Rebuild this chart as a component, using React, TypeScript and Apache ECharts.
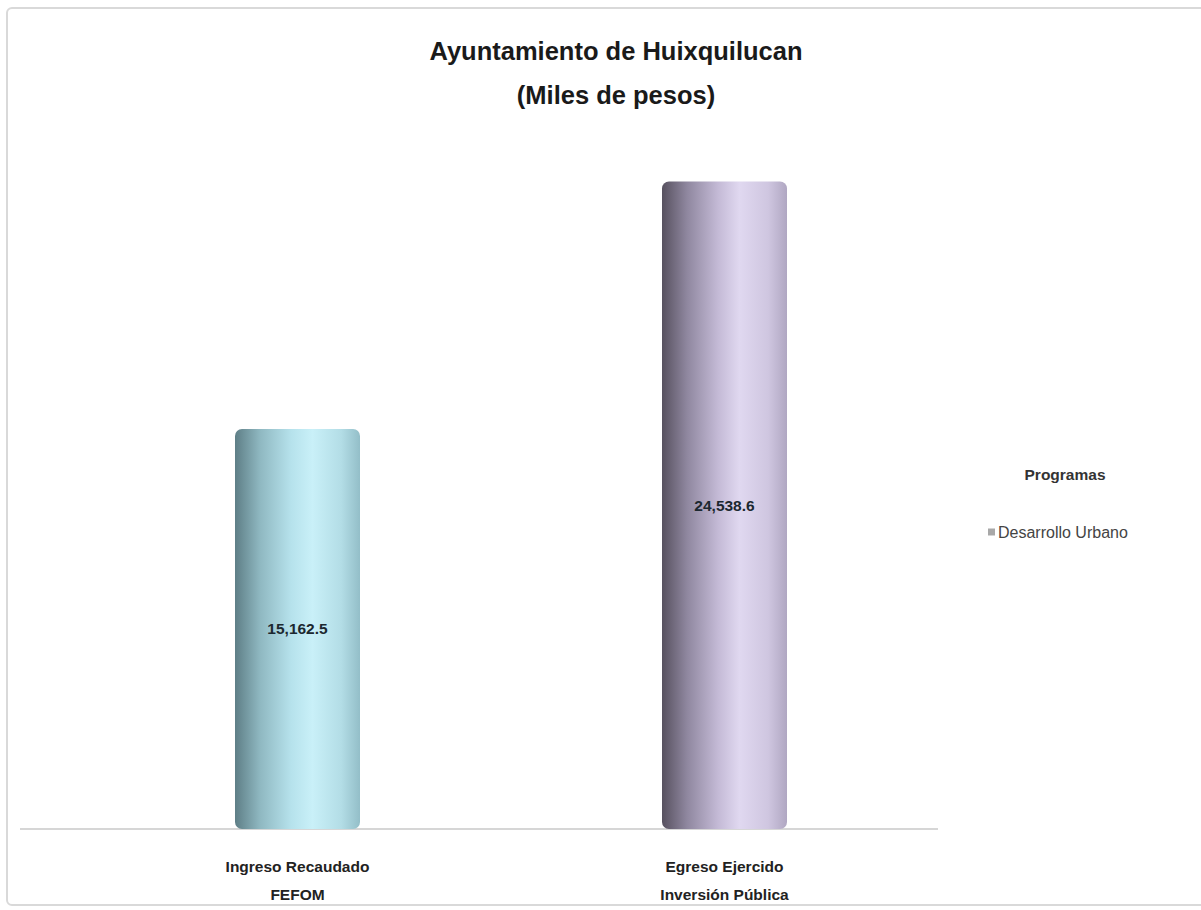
import React, { useEffect, useRef } from "react";
import * as echarts from "echarts";

const categories = ["Ingreso Recaudado\nFEFOM", "Egreso Ejercido\nInversión Pública"];
const values = [15162.5, 24538.6];
const seriesName = "Desarrollo Urbano";
const legendTitle = "Programas";
const titleText = "Ayuntamiento de Huixquilucan\n(Miles de pesos)";

const barGradients = [
  ["#5e7e86", "#8fb8c1", "#b6e2ec", "#c9f0f8", "#b3dde6", "#93bec8"],
  ["#57515f", "#8f879f", "#c4bad6", "#e0d8f0", "#cfc6e0", "#b0a7c2"],
];

const FONT = "'Liberation Sans Narrow', 'Arial Narrow', 'Liberation Sans', Arial, sans-serif";

function gradient(cols: string[]) {
  const n = cols.length;
  const stops = [0, 0.2, 0.45, 0.62, 0.85, 1];
  return new echarts.graphic.LinearGradient(0, 0, 1, 0, cols.map((c, i) => ({ offset: stops[i] ?? i / (n - 1), color: c })));
}

export default function App() {
  const ref = useRef<HTMLDivElement>(null);
  useEffect(() => {
    if (!ref.current) return;
    const chart = echarts.init(ref.current, undefined, { renderer: "svg" });
    const fmt = new Intl.NumberFormat("en-US", { minimumFractionDigits: 1, maximumFractionDigits: 1 });
    chart.setOption({
      animation: false,
      backgroundColor: "#ffffff",
      title: [
        {
          text: titleText,
          left: 611,
          top: 24,
          textAlign: "center",
          textStyle: { fontFamily: FONT, fontSize: 25.5, fontWeight: "bold", color: "#1a1a1a", lineHeight: 44 },
        },
        {
          text: legendTitle,
          left: 1060,
          top: 461,
          textAlign: "center",
          textStyle: { fontFamily: FONT, fontSize: 15.5, fontWeight: "bold", color: "#333333" },
        },
      ],
      legend: {
        left: 983,
        top: 519,
        icon: "rect",
        itemWidth: 7,
        itemHeight: 7,
        itemGap: 4,
        textStyle: { fontFamily: FONT, fontSize: 16, color: "#444444", padding: [0, 0, 0, -2] },
        data: [{ name: seriesName, itemStyle: { color: "#a8a8a8" } }],
      },
      grid: { left: 84, right: 263, top: 143, bottom: 81 },
      xAxis: {
        type: "category",
        data: categories,
        axisLine: { show: false },
        axisTick: { show: false },
        axisLabel: {
          margin: 23,
          fontFamily: FONT,
          fontSize: 15.5,
          fontWeight: "bold",
          color: "#222222",
          lineHeight: 28,
        },
      },
      yAxis: {
        type: "value",
        min: 0,
        max: 26000,
        show: false,
        splitLine: { show: false },
      },
      graphic: [
        {
          type: "rect",
          shape: { x: 7, y: 8, width: 1210, height: 897, r: 5 },
          style: { fill: "none", stroke: "#d9d9d9", lineWidth: 2 },
          silent: true,
          z: -1,
        },
        {
          type: "line",
          shape: { x1: 20, y1: 829, x2: 938, y2: 829 },
          style: { stroke: "#d6d6d6", lineWidth: 2 },
          silent: true,
        },
      ],
      series: [
        {
          name: seriesName,
          type: "bar",
          barWidth: 125,
          itemStyle: { color: "#a8a8a8" },
          data: values.map((v, i) => ({
            value: v,
            itemStyle: { color: gradient(barGradients[i]), borderRadius: [7, 7, 7, 7] },
          })),
          label: {
            show: true,
            position: "inside",
            formatter: (p: any) => fmt.format(p.value),
            fontFamily: FONT,
            fontSize: 15.5,
            fontWeight: "bold",
            color: "#1c2830",
          },
        },
      ],
    });
    return () => chart.dispose();
  }, []);
  return <div ref={ref} style={{ position: "absolute", left: 0, top: 0, width: 1201, height: 910 }} />;
}
